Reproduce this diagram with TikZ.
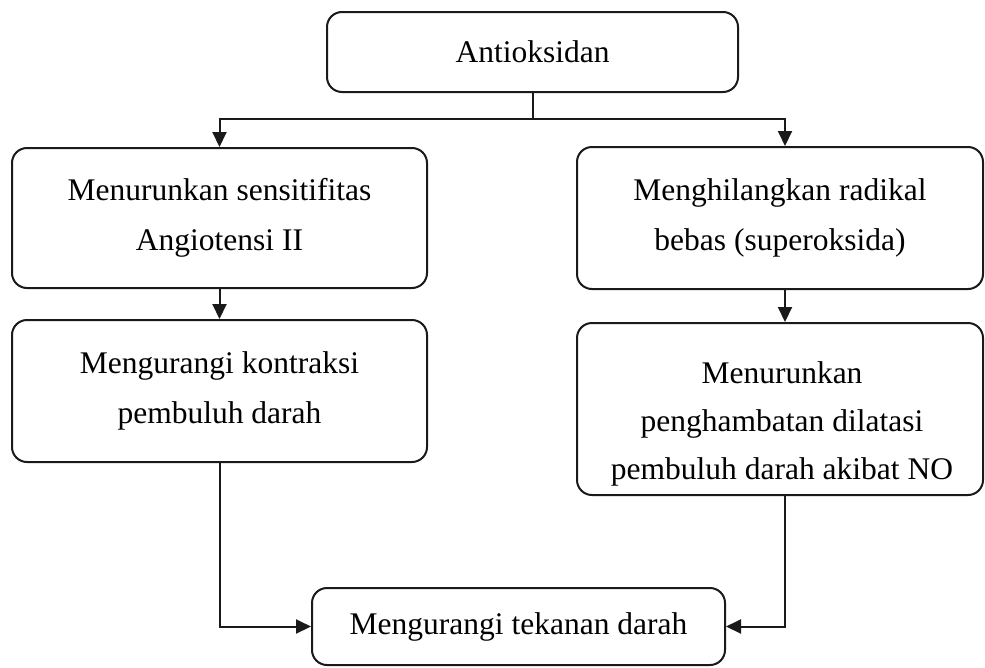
\documentclass[tikz,border=0pt]{standalone}
\usepackage{fontspec}
\setmainfont{Liberation Serif}
\usetikzlibrary{arrows.meta}
\definecolor{ink}{HTML}{1A1A1A}
\begin{document}
\begin{tikzpicture}[x=1pt,y=-1pt,
  box/.style={draw=ink, line width=2pt, rounded corners=15pt, fill=white, align=center, inner sep=0pt,
    font=\fontsize{31.5}{50}\selectfont, text=black},
  txt/.style={align=center, inner sep=0pt, font=\fontsize{31.5}{48}\selectfont, text=black},
  conn/.style={draw=ink, line width=2pt, -{Triangle[length=15pt,width=14pt]}},
  plain/.style={draw=ink, line width=2pt}]
\fill[white] (0,0) rectangle (985,667);
\useasboundingbox (0,0) rectangle (985,667);

\node[box, minimum width=411, minimum height=80] (ant) at (532.5,52) {Antioksidan};
\node[box, minimum width=415, minimum height=140] (lb1) at (219.5,218) {Menurunkan sensitifitas\\Angiotensi II};
\node[box, minimum width=406, minimum height=142] (rb1) at (780,218) {Menghilangkan radikal\\bebas (superoksida)};
\node[box, minimum width=415, minimum height=142] (lb2) at (219.5,391) {Mengurangi kontraksi\\pembuluh darah};
\node[box, minimum width=406, minimum height=172] (rb2) at (780,409) {};
\node[txt] (rb2t) at (782,424) {Menurunkan\\penghambatan dilatasi\\pembuluh darah akibat NO};
\node[box, minimum width=413, minimum height=77] (bot) at (518.5,626.5) {Mengurangi tekanan darah};

\coordinate (rx) at (785,0);
\coordinate (split) at (532.5,119);

\draw[plain] (ant.south) -- (split);
\draw[conn] (split) -| (lb1.north);
\draw[conn] (split) -| (rx |- rb1.north);
\draw[conn] (lb1.south) -- (lb2.north);
\draw[conn] (rx |- rb1.south) -- (rx |- rb2.north);
\draw[conn] (lb2.south) |- (bot.west);
\draw[conn] (rx |- rb2.south) |- (bot.east);
\end{tikzpicture}
\end{document}
